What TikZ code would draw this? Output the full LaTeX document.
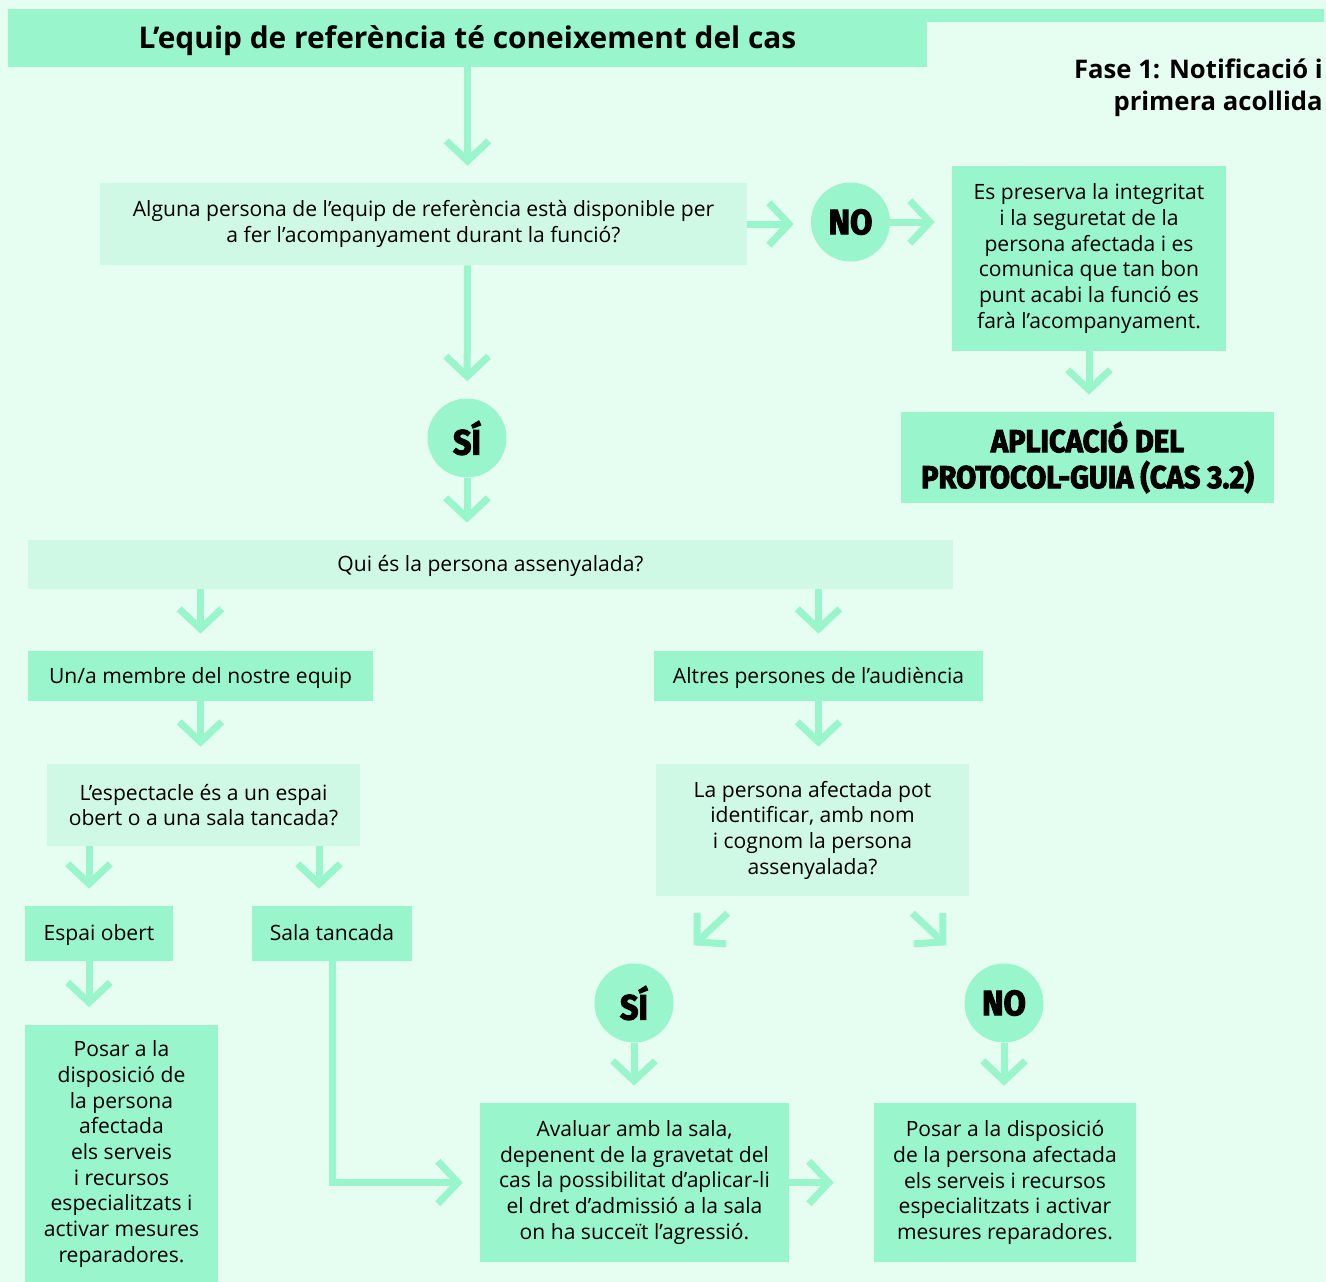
\documentclass[tikz,border=0pt]{standalone}
\usepackage{fontspec}
\setmainfont{Open Sans}
\newfontfamily\heavyfont{Fira Sans}[FakeBold=3, FakeStretch=0.92]
\usepackage{tikz}
\usetikzlibrary{arrows.meta, positioning}

\definecolor{mintdark}{HTML}{99F5CC}
\definecolor{mintlight}{HTML}{CFF9E4}
\definecolor{mintbg}{HTML}{E6FDF1}

\begin{document}
\begin{tikzpicture}[
    x=0.02cm, y=-0.02cm,
    font=\fontsize{12pt}{14.6pt}\selectfont,
    block/.style={
      rectangle,
      fill=mintdark,
      align=center,
      inner sep=0pt
    },
    question/.style={
      block,
      fill=mintlight
    },
    oneline/.style={
      text height=10.8pt,
      text depth=2.3pt
    },
    answer/.style={
      circle,
      fill=mintdark,
      minimum size=1.58cm,
      inner sep=0pt,
      font=\heavyfont\bfseries\fontsize{20pt}{22pt}\selectfont
    },
    flow/.style={
      draw=mintdark,
      line width=0.14cm,
      -{Straight Barb[length=0.4cm, width=0.85cm]},
      shorten >=0.34cm
    }
  ]
    \useasboundingbox (0,0) rectangle (1326,1282);
    \fill[mintbg] (0,0) rectangle (1326,1282);
    \fill[mintdark] (927,9) rectangle (1324,22);

    \node[block, minimum width=18.38cm, minimum height=1.16cm,
          text height=15.3pt, text depth=3.2pt,
          font=\bfseries\fontsize{17pt}{20pt}\selectfont] (header) at (467.5,38)
          {L’equip de referència té coneixement del cas};
    \node[anchor=north east, align=right, inner sep=0pt,
          font=\bfseries\fontsize{14.6pt}{18.4pt}\selectfont] (phase) at (1323,58)
          {Fase 1: Notificació i\\primera acollida};

    \node[question, minimum width=12.94cm, minimum height=1.64cm] (q1) at (423.5,224)
          {Alguna persona de l’equip de referència està disponible per\\a fer l’acompanyament durant la funció?};
    \node[answer] (no1) at (850.5,222) {NO};
    \node[block, minimum width=5.48cm, minimum height=3.70cm] (preserve) at (1089,258.5)
          {Es preserva la integritat\\i la seguretat de la\\persona afectada i es\\comunica que tan bon\\punt acabi la funció es\\farà l’acompanyament.};
    \node[block, minimum width=7.46cm, minimum height=1.82cm,
          font=\heavyfont\bfseries\fontsize{18pt}{20.5pt}\selectfont] (app) at (1087.5,457.5)
          {APLICACIÓ DEL\\PROTOCOL-GUIA (CAS 3.2)};
    \node[answer] (si1) at (467,438) {SÍ};

    \node[question, oneline, minimum width=18.5cm, minimum height=0.98cm] (q2) at (490.5,564.5)
          {Qui és la persona assenyalada?};
    \node[block, oneline, minimum width=6.9cm, minimum height=1.0cm] (member) at (200.5,676)
          {Un/a membre del nostre equip};
    \node[block, oneline, minimum width=6.58cm, minimum height=1.0cm] (others) at (818.5,676)
          {Altres persones de l’audiència};

    \node[question, minimum width=6.26cm, minimum height=1.64cm] (q3) at (203.5,805)
          {L’espectacle és a un espai\\obert o a una sala tancada?};
    \node[question, minimum width=6.26cm, minimum height=2.64cm] (q4) at (812.5,830)
          {La persona afectada pot\\identificar, amb nom\\i cognom la persona\\assenyalada?};

    \node[block, oneline, minimum width=2.96cm, minimum height=1.1cm] (open) at (99,933.5) {Espai obert};
    \node[block, oneline, minimum width=3.2cm, minimum height=1.1cm] (closed) at (332,933.5) {Sala tancada};
    \node[answer] (si2) at (634,1003) {SÍ};
    \node[answer] (no2) at (1004,1003) {NO};

    \node[block, minimum width=3.86cm, minimum height=5.18cm] (support1) at (121.5,1154)
          {Posar a la\\disposició de\\la persona\\afectada\\els serveis\\i recursos\\especialitzats i\\activar mesures\\reparadores.};
    \node[block, minimum width=6.18cm, minimum height=3.18cm] (evaluate) at (634.5,1182.5)
          {Avaluar amb la sala,\\depenent de la gravetat del\\cas la possibilitat d’aplicar-li\\el dret d’admissió a la sala\\on ha succeït l’agressió.};
    \node[block, minimum width=5.24cm, minimum height=3.18cm] (support2) at (1005,1182.5)
          {Posar a la disposició\\de la persona afectada\\els serveis i recursos\\especialitzats i activar\\mesures reparadores.};

    % connectors
    \draw[flow] (header.south) -- (header.south |- q1.north);
    \draw[flow] (q1.east) -- (q1.east -| no1.west);
    \draw[flow] (no1.east) -- (no1.east -| preserve.west);
    \draw[flow] (preserve) -- (preserve |- app.north);
    \draw[flow] (header.south |- q1.south) -- (si1);
    \draw[flow] (si1) -- (si1 |- q2.north);
    \draw[flow] (q2.south -| member) -- (member);
    \draw[flow] (q2.south -| others) -- (others);
    \draw[flow] (member) -- (member |- q3.north);
    \draw[flow] (others) -- (others |- q4.north);
    \draw[flow] ([xshift=-0.2cm]open.north |- q3.south) -- ([xshift=-0.2cm]open.north);
    \draw[flow] ([xshift=-0.26cm]closed.north |- q3.south) -- ([xshift=-0.26cm]closed.north);
    \draw[flow] ([xshift=-0.2cm]open.south) -- ([xshift=-0.2cm]open.south |- support1.north);
    \draw[flow] (closed.south) |- (evaluate.west);
    \draw[flow, shorten >=0pt] ([xshift=-1.7cm, yshift=-0.34cm]q4.south) -- ++(-0.68cm,-0.64cm);
    \draw[flow, shorten >=0pt] ([xshift=2cm, yshift=-0.34cm]q4.south) -- ++(0.68cm,-0.64cm);
    \draw[flow] (si2) -- (si2 |- evaluate.north);
    \draw[flow] (no2) -- (no2 |- support2.north);
    \draw[flow, shorten >=0.8cm] (evaluate.east) -- (support2.west);
\end{tikzpicture}
\end{document}
